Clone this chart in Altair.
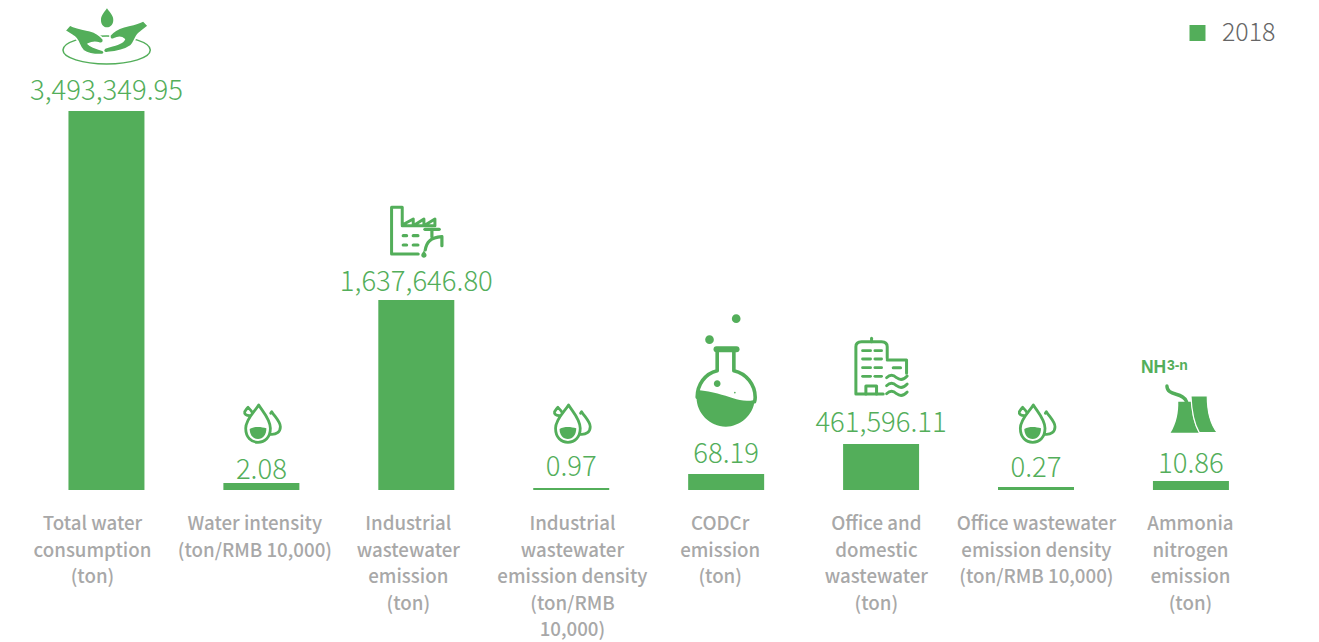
import re
import altair as alt
import pandas as pd

categories = [
    "Total water|consumption|(ton)",
    "Water intensity|(ton/RMB 10,000)",
    "Industrial|wastewater|emission|(ton)",
    "Industrial|wastewater|emission density|(ton/RMB|10,000)",
    "CODCr|emission|(ton)",
    "Office and|domestic|wastewater|(ton)",
    "Office wastewater|emission density|(ton/RMB 10,000)",
    "Ammonia|nitrogen|emission|(ton)",
]
value_labels = ["3,493,349.95", "2.08", "1,637,646.80", "0.97", "68.19", "461,596.11", "0.27", "10.86"]
bar_heights = [379, 7, 190, 2, 16, 46, 3, 9]
label_gaps = [11, 4, 9, 12, 11, 12, 10, 8]
category_shift = [-14, -6.5, -8, 1.2, -6, -4.7, 0.4, -0.5]
series = ["2018"] * 8

GREEN = "#53ae5a"
FONT = "Noto Sans CJK SC"
df = pd.DataFrame({"cat": categories, "val": value_labels, "h": bar_heights, "year": series})

XS = alt.Scale(domain=categories, paddingInner=0.5095, paddingOuter=0.2547)
YS = alt.Scale(domain=[0, 482])
PLOT_W = 1239.4
PLOT_H = 482


def X():
    return alt.X("cat:N", scale=XS, axis=None, sort=None)


Y = alt.Y("h:Q", scale=YS, axis=None)


def local(path, ox, oy, cx, top):
    # glyph outline measured on a 3x enlargement: bring it to px relative to the bar's top-centre
    def fn(m):
        return f"{ox + float(m[1]) / 3 - cx:.2f},{oy + float(m[2]) / 3 - top:.2f}"
    return re.sub(r"(-?[\d.]+),(-?[\d.]+)", fn, path)


def circle(x, y, r):
    k = 0.5523 * r
    return (f"M{x - r},{y} C{x - r},{y - k} {x - k},{y - r} {x},{y - r} C{x + k},{y - r} {x + r},{y - k} {x + r},{y} "
            f"C{x + r},{y + k} {x + k},{y + r} {x},{y + r} C{x - k},{y + r} {x - r},{y + k} {x - r},{y} Z")


def glyph(idx, path, kind="fill", sw=3.0, color=GREEN):
    sub = alt.Chart(df.iloc[[idx]])
    if kind == "fill":
        m = sub.mark_point(shape=path, size=4, filled=True, color=color, opacity=1, strokeWidth=0)
    elif kind == "halo":
        m = sub.mark_point(shape=path, size=4, filled=True, fill=GREEN, stroke="white", strokeWidth=sw, opacity=1)
    else:
        m = sub.mark_point(shape=path, size=4, filled=False, stroke=color, strokeWidth=sw, opacity=1,
                           strokeCap="round", strokeJoin="round")
    return m.encode(x=X(), y=Y)


layers = []

# bars + legend
layers.append(
    alt.Chart(df).mark_bar(cornerRadius=0).encode(
        x=X(), y=Y,
        color=alt.Color("year:N", scale=alt.Scale(domain=["2018"], range=[GREEN]),
                        legend=alt.Legend(title=None, orient="none", legendX=1156, legendY=12.5, padding=0,
                                          symbolType="square", symbolSize=256, symbolStrokeWidth=0, labelOffset=12,
                                          labelFont=FONT, labelFontSize=25, labelColor="#666666", labelFontWeight=300)),
    )
)

# value labels and category labels
for i in range(8):
    layers.append(
        alt.Chart(df.iloc[[i]]).mark_text(font=FONT, fontSize=27.5, fontWeight=300, color=GREEN, baseline="alphabetic",
                                          align="center", yOffset=-label_gaps[i]).encode(
            x=X(), y=Y, text="val:N")
    )
    layers.append(
        alt.Chart(df.iloc[[i]]).mark_text(font=FONT, fontSize=18.7, fontWeight=500, color="#a8a8a8", baseline="alphabetic",
                                          align="center", lineBreak="|", lineHeight=26.5, xOffset=category_shift[i]).encode(
            x=X(), y=alt.value(522.5), text="cat:N")
    )

# hands icon
L = dict(ox=20, oy=0, cx=106.5, top=111)
layers.append(glyph(0, local(
    "M243,60 C243,45 255,35 261,25 C267,35 280,45 280,60 C280,75 270,82 261,82 C252,82 243,75 243,60 Z", **L)))
layers.append(glyph(0, local(
    "M129,150 C129,127 188,108 260,108 C332,108 391,127 391,150 C391,173 332,192 260,192 C188,192 129,173 129,150 Z", **L),
    "stroke", 1.5))
layers.append(glyph(0, local(
    "M135,92 L150,75 C170,85 190,88 210,92 C225,96 240,105 250,118 C252,128 246,131 238,129 C228,126 216,126 205,132 "
    "C212,140 232,146 252,152 C256,158 252,164 240,164 C222,164 205,162 190,152 C175,137 178,118 160,108 Z", **L), "halo", 1.6))
layers.append(glyph(0, local(
    "M385,78 L370,62 C350,72 330,75 312,80 C295,85 280,93 270,106 C268,118 275,120 283,116 C295,110 305,110 313,118 "
    "C308,130 285,135 255,144 C247,150 250,160 262,158 C290,156 315,150 332,138 C347,124 345,105 362,96 Z", **L), "halo", 1.6))

# drops icon (three bars)
DROP_OUT = ("M127,180 C115,200 88,222 88,250 C88,278 105,292 125,292 C145,292 162,278 162,250 C162,222 139,200 127,180 Z")
DROP_R = "M163,205 L166,200 C175,215 192,230 192,245 C192,260 180,270 162,268"
DROP_L = "M100,212 C90,212 83,208 85,200 C88,195 92,190 95,187 C100,192 105,197 108,203"
DROP_W = "M100,252 C115,243 135,245 150,250 C150,270 140,282 125,282 C110,282 100,270 100,252 Z"
for idx, cx, top in [(1, 261.4, 483), (3, 571.3, 488), (6, 1036.1, 487)]:
    L = dict(ox=cx - 45, oy=345, cx=cx, top=top)
    layers.append(glyph(idx, local(DROP_OUT, **L), "stroke", 2.8))
    layers.append(glyph(idx, local(DROP_R, **L), "stroke", 2.8))
    layers.append(glyph(idx, local(DROP_L, **L), "stroke", 2.8))
    layers.append(glyph(idx, local(DROP_W, **L)))

# factory icon
L = dict(ox=330, oy=195, cx=416.4, top=300)
layers.append(glyph(2, local(
    "M265,177 L185,177 L185,37 L217,37 L217,90 M217,90 L250,72 L250,92 L282,72 L282,92 L315,72 L315,92 L217,92", **L), "stroke", 3.0))
for d in ["M220,122 L230,122", "M250,122 L264,122", "M220,150 L230,150", "M250,150 L264,150",
          "M285,103 L328,103", "M306,103 L306,125",
          "M286,165 C290,142 300,128 336,125 L336,152"]:
    layers.append(glyph(2, local(d, **L), "stroke", 3.2))
layers.append(glyph(2, local("M282,166 C279,172 274,176 274,181 C274,185 278,188 282,188 C286,188 290,185 290,181 C290,176 285,172 282,166 Z", **L)))

# flask icon
L = dict(ox=680, oy=305, cx=726.3, top=474)
for c in [(89, 104, 13), (169, 41, 13), (112, 236, 10), (165, 263, 2.5)]:
    layers.append(glyph(4, local(circle(*c), **L)))
layers.append(glyph(4, local(
    "M54,255 C100,260 130,270 160,280 C180,287 200,290 224,285 C222,330 180,365 138,365 C90,365 50,325 50,277 C50,270 52,262 54,255 Z", **L)))
for d in ["M112,135 L112,197 C75,205 52,240 52,277", "M162,135 L162,197 C200,205 226,240 226,277 C226,283 225,287 224,290"]:
    layers.append(glyph(4, local(d, **L), "stroke", 3.6))
layers.append(glyph(4, local("M110,133 L170,133", **L), "stroke", 6))

# building icon
L = dict(ox=680, oy=305, cx=881.2, top=444)
for d in ["M610,267 L528,267 L528,125 C528,115 535,110 545,110 L605,110 C615,110 622,115 622,125 L622,160",
          "M575,100 L575,110", "M622,165 L680,165 L680,205", "M558,267 L558,243 L590,243 L590,267", "M640,188 L662,188"]:
    layers.append(glyph(5, local(d, **L), "stroke", 3.0))
for y in [137, 162, 188, 214]:
    layers.append(glyph(5, local(f"M548,{y} L572,{y}", **L), "stroke", 2.8))
    layers.append(glyph(5, local(f"M585,{y} L605,{y}", **L), "stroke", 2.8))
for y in [218, 242, 266]:
    layers.append(glyph(5, local(f"M620,{y} C632,{y-12} 642,{y-8} 650,{y} C660,{y+8} 672,{y+6} 682,{y-5}", **L), "stroke", 2.8))

# cooling towers icon
L = dict(ox=990, oy=345, cx=1191, top=481)
layers.append(glyph(7, local("M565,170 L605,170 C605,200 610,235 628,263 L542,263 C560,235 566,200 565,170 Z", **L)))
layers.append(glyph(7, local("M603,153 L652,153 C652,200 660,235 682,263 L628,263 C612,235 605,200 603,153 Z", **L), "halo", 1.2))
layers.append(glyph(7, local("M531,123 C531,155 580,140 590,170", **L), "stroke", 3.4))
layers.append(
    alt.Chart(df.iloc[[7]].assign(t="NH")).mark_text(font="Liberation Sans", fontSize=17.5, fontWeight="bold", color=GREEN,
                                                     baseline="alphabetic", align="left", xOffset=-50, yOffset=-108).encode(
        x=X(), y=Y, text="t:N"))
layers.append(
    alt.Chart(df.iloc[[7]].assign(t="3-n")).mark_text(font="Liberation Sans", fontSize=14, fontWeight="bold", color=GREEN,
                                                      baseline="alphabetic", align="left", xOffset=-24, yOffset=-111).encode(
        x=X(), y=Y, text="t:N"))

chart = alt.layer(*layers).properties(
    width=PLOT_W, height=PLOT_H,
    background="white",
    autosize=alt.AutoSizeParams(type="none"),
    padding={"left": 21, "top": 0, "right": 40, "bottom": 152},
).configure_view(stroke=None)

chart.save("out.html", embed_options={"renderer": "svg", "actions": False})
